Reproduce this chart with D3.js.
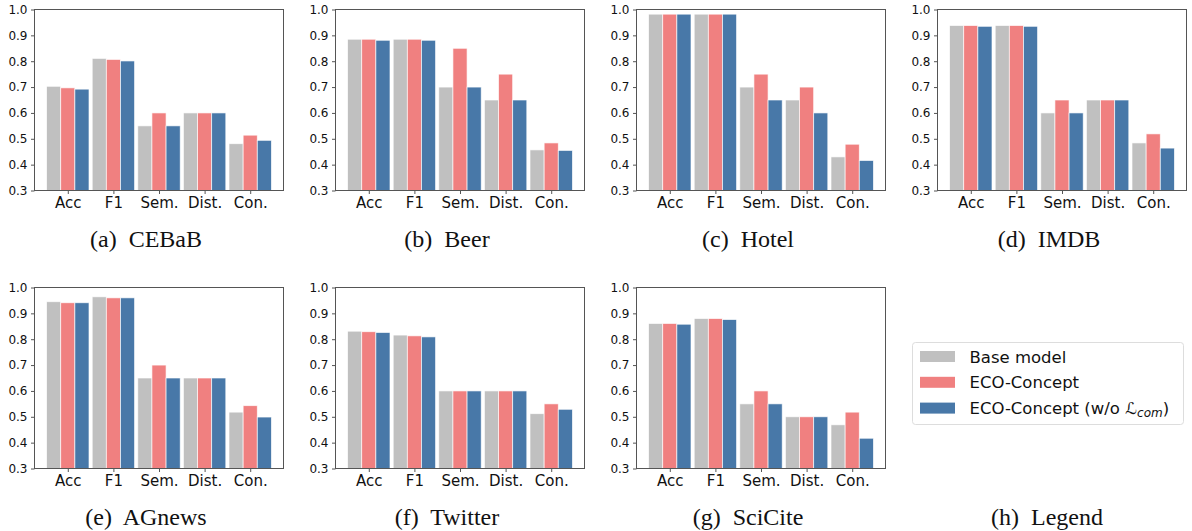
<!DOCTYPE html>
<html><head><meta charset="utf-8">
<script src="https://cdn.jsdelivr.net/npm/d3@7"></script>
<style>
body{margin:0;background:#fff;}
svg{display:block;}
</style></head>
<body><svg id="chart" width="1192" height="531"></svg>
<script>
const metrics = ["Acc", "F1", "Sem.", "Dist.", "Con."];
const seriesNames = ["Base model", "ECO-Concept", "ECO-Concept (w/o ℒcom)"];
const seriesColors = ["#c0c0c0", "#f08080", "#4878a8"];
const yTicks = [0.3, 0.4, 0.5, 0.6, 0.7, 0.8, 0.9, 1.0];
const captions = ["(a)  CEBaB", "(b)  Beer", "(c)  Hotel", "(d)  IMDB", "(e)  AGnews", "(f)  Twitter", "(g)  SciCite"];

// values per dataset: [base, eco, eco w/o Lcom] for each metric
const cebab   = [[0.703,0.697,0.692],[0.811,0.807,0.801],[0.55,0.60,0.55],[0.60,0.60,0.60],[0.481,0.514,0.494]];
const beer    = [[0.885,0.885,0.881],[0.885,0.885,0.881],[0.70,0.85,0.70],[0.65,0.75,0.65],[0.457,0.484,0.455]];
const hotel   = [[0.982,0.982,0.982],[0.982,0.982,0.982],[0.70,0.75,0.65],[0.65,0.70,0.60],[0.430,0.479,0.416]];
const imdb    = [[0.938,0.938,0.935],[0.938,0.938,0.935],[0.60,0.65,0.60],[0.65,0.65,0.65],[0.484,0.519,0.464]];
const agnews  = [[0.945,0.941,0.941],[0.964,0.960,0.960],[0.65,0.70,0.65],[0.65,0.65,0.65],[0.518,0.543,0.499]];
const twitter = [[0.831,0.829,0.826],[0.816,0.813,0.809],[0.60,0.60,0.60],[0.60,0.60,0.60],[0.512,0.550,0.529]];
const scicite = [[0.861,0.861,0.858],[0.880,0.880,0.876],[0.55,0.60,0.55],[0.50,0.50,0.50],[0.469,0.518,0.417]];
const datasets = [cebab, beer, hotel, imdb, agnews, twitter, scicite];

const svg = d3.select("#chart");
const plotW = 249, plotH = 181;
const lefts = [34.5, 335.5, 636.5, 937.5];
const tops = [9.5, 287.5];
const capY = [247, 525];
const barW = 0.31;

datasets.forEach((data, i) => {
  const col = i % 4, row = Math.floor(i / 4);
  const g = svg.append("g").attr("transform", `translate(${lefts[col]},${tops[row]})`);
  const x = d3.scaleLinear().domain([-0.73, 4.73]).range([0, plotW]);
  const y = d3.scaleLinear().domain([0.3, 1.0]).range([plotH, 0]);

  data.forEach((vals, mi) => {
    vals.forEach((v, si) => {
      const cx = mi + (si - 1) * barW;
      g.append("rect")
        .attr("x", x(cx - barW / 2))
        .attr("width", x(barW) - x(0))
        .attr("y", y(v))
        .attr("height", y(0.3) - y(v))
        .attr("fill", seriesColors[si])
        .attr("stroke", "#ffffff")
        .attr("stroke-width", 0.8)
        .attr("stroke-opacity", 0.8);
    });
  });

  const yAxis = d3.axisLeft(y).tickValues(yTicks).tickFormat(d3.format(".1f")).tickSize(3.5).tickPadding(3.5);
  const ya = g.append("g").call(yAxis);
  ya.select(".domain").remove();
  ya.selectAll("line").attr("stroke", "#555");
  ya.selectAll("text").attr("font-family", "DejaVu Sans").attr("font-size", 12).attr("fill", "#111");

  const xAxis = d3.axisBottom(x).tickValues(d3.range(metrics.length)).tickFormat(d => metrics[d]).tickSize(3.5).tickPadding(3);
  const xa = g.append("g").attr("transform", `translate(0,${plotH})`).call(xAxis);
  xa.select(".domain").remove();
  xa.selectAll("line").attr("stroke", "#555");
  xa.selectAll("text").attr("font-family", "DejaVu Sans").attr("font-size", 15).attr("fill", "#111");

  g.append("rect").attr("x", 0).attr("y", 0).attr("width", plotW).attr("height", plotH)
    .attr("fill", "none").attr("stroke", "#555").attr("stroke-width", 1);

  svg.append("text")
    .attr("x", lefts[col] + plotW / 2 - 13)
    .attr("y", capY[row])
    .attr("text-anchor", "middle")
    .attr("font-family", "Liberation Serif")
    .attr("font-size", 24)
    .attr("fill", "#111")
    .style("white-space", "pre")
    .text(captions[i]);
});

// Legend
const lg = svg.append("g").attr("transform", "translate(912.5,342.5)");
lg.append("rect").attr("width", 271).attr("height", 82).attr("rx", 3)
  .attr("fill", "#fff").attr("stroke", "#ddd").attr("stroke-width", 1);
seriesNames.forEach((name, si) => {
  const yy = 14 + si * 25.8;
  lg.append("rect").attr("x", 7.5).attr("y", yy - 5.5).attr("width", 35).attr("height", 11)
    .attr("fill", seriesColors[si]);
  const t = lg.append("text").attr("x", 57).attr("y", yy + 6)
    .attr("font-family", "DejaVu Sans").attr("font-size", 16.5).attr("fill", "#111");
  if (si === 2) {
    t.append("tspan").text("ECO-Concept (w/o ");
    t.append("tspan").attr("font-style", "italic").text("ℒ");
    t.append("tspan").attr("font-style", "italic").attr("font-size", 12).attr("dy", 3).text("com");
    t.append("tspan").attr("dy", -3).text(")");
  } else {
    t.text(name);
  }
});
svg.append("text").attr("x", 1047).attr("y", 525).attr("text-anchor", "middle")
  .attr("font-family", "Liberation Serif").attr("font-size", 24).attr("fill", "#111")
  .style("white-space", "pre").text("(h)  Legend");
</script></body></html>
